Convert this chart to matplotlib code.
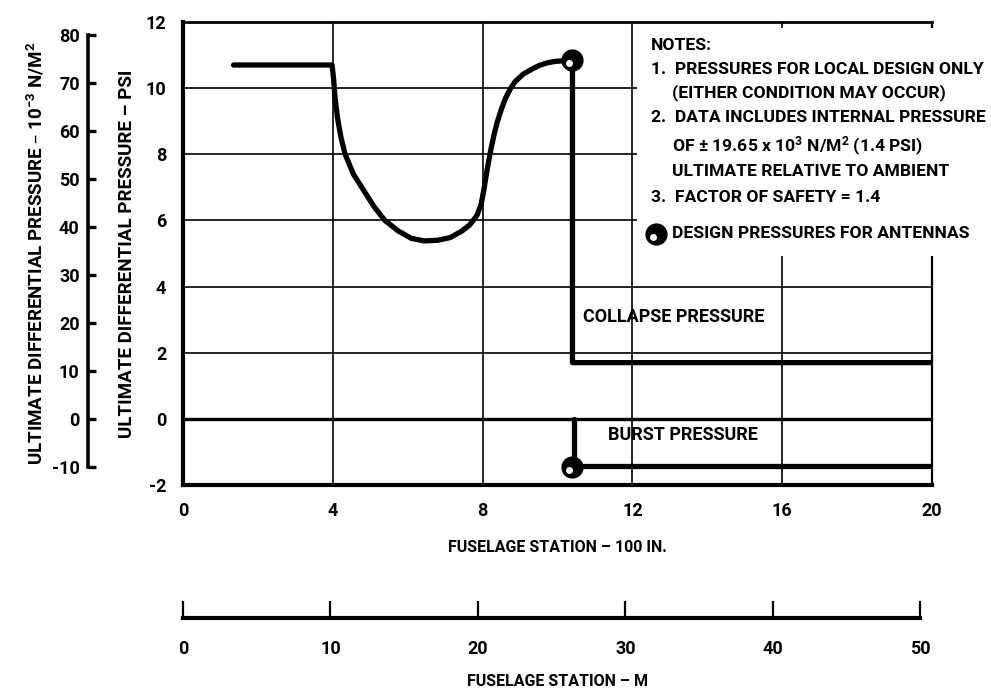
import numpy as np
import matplotlib
matplotlib.use("Agg")
import matplotlib.pyplot as plt
from matplotlib.transforms import offset_copy

plt.rcParams['font.family'] = ['Roboto', 'DejaVu Sans']
plt.rcParams['font.weight'] = 'bold'
plt.rcParams['axes.labelweight'] = 'bold'
plt.rcParams['mathtext.default'] = 'regular'
plt.rcParams['axes.unicode_minus'] = False

PSI_TO_KNM2 = 6.894757
IN100_TO_M = 2.54

# =========================
# DATA
# =========================

# collapse pressure, fuselage station (100 in) vs psi
collapse_x = [1.35, 3.98, 4.02, 4.06, 4.13, 4.22, 4.33, 4.55, 4.83, 5.1, 5.39,
              5.75, 6.09, 6.44, 6.8, 7.13, 7.45, 7.66, 7.85, 7.96, 8.03, 8.09,
              8.15, 8.22, 8.3, 8.39, 8.5, 8.61, 8.74, 8.87, 9.08, 9.31, 9.52,
              9.74, 9.95, 10.18, 10.4, 10.4, 20.0]
collapse_y = [10.7, 10.7, 10.3, 9.7, 9.07, 8.5, 8.0, 7.4, 6.9, 6.42, 6.0,
              5.68, 5.46, 5.38, 5.4, 5.48, 5.68, 5.87, 6.15, 6.49, 6.9, 7.32,
              7.72, 8.14, 8.56, 8.97, 9.36, 9.69, 9.98, 10.2, 10.42, 10.57,
              10.69, 10.77, 10.81, 10.83, 10.85, 1.7, 1.7]

# burst pressure
burst_x = [10.45, 10.45, 20.0]
burst_y = [0.0, -1.42, -1.42]

# design pressures for antennas
antenna_x = [10.4, 10.4]
antenna_y = [10.85, -1.45]

x_ticks = [0, 4, 8, 12, 16, 20]
psi_ticks = [-2, 0, 2, 4, 6, 8, 10, 12]
knm2_ticks = [-10, 0, 10, 20, 30, 40, 50, 60, 70, 80]
m_ticks = [0, 10, 20, 30, 40, 50]

notes = [
    ("NOTES:", 0.0),
    ("1.  PRESSURES FOR LOCAL DESIGN ONLY", 0.0),
    ("(EITHER CONDITION MAY OCCUR)", 21),
    ("2.  DATA INCLUDES INTERNAL PRESSURE", 0.0),
    ("OF \u00b1 19.65 x 10$^3$ N/M$^2$ (1.4 PSI)", 21),
    ("ULTIMATE RELATIVE TO AMBIENT", 21),
    ("3.  FACTOR OF SAFETY = 1.4", 0.0),
]
note_rows = [45, 69, 93, 118, 146, 172, 197]

# =========================
# FIGURE
# =========================

W, H = 991, 693
fig = plt.figure(figsize=(W / 100, H / 100), dpi=100)

def fx(px):
    return px / W

def fy(py):
    return 1 - py / H

ax = fig.add_axes([fx(183), fy(485), fx(932) - fx(183), fy(22) - fy(485)])
ax.set_xlim(0, 20)
ax.set_ylim(-2, 12)

for x in [4, 8, 12, 16]:
    ax.axvline(x, color='black', lw=1.2, zorder=1)
for y in [2, 4, 6, 8, 10]:
    ax.axhline(y, color='black', lw=1.2, zorder=1)
ax.axhline(0, color='black', lw=2.4, zorder=1)

# blank panel for the notes
ax.add_patch(plt.Rectangle((12.12, 4.92), 8.6, 6.9, facecolor='white',
                           edgecolor='none', zorder=2.6, clip_on=False))

ax.plot(collapse_x, collapse_y, color='black', lw=3.8, zorder=4,
        solid_joinstyle='round', solid_capstyle='round')
ax.plot(burst_x, burst_y, color='black', lw=3.8, zorder=4,
        solid_joinstyle='round', solid_capstyle='round')

ax.plot(antenna_x, antenna_y, 'o', color='black', ms=15, zorder=5)
dot_tr = offset_copy(ax.transData, fig=fig, x=-3, y=-3, units='dots')
ax.plot(antenna_x, antenna_y, 'o', color='white', ms=4, zorder=6,
        transform=dot_tr)

ax.text(10.68, 3.07, "COLLAPSE PRESSURE", fontsize=13, va='center', zorder=7)
ax.text(11.35, -0.5, "BURST PRESSURE", fontsize=13, va='center', zorder=7)

ax.set_xticks(x_ticks)
ax.set_yticks(psi_ticks)
ax.tick_params(length=0, labelsize=13, pad=12)
for side in ['left', 'bottom']:
    ax.spines[side].set_linewidth(3.0)
ax.spines['top'].set_linewidth(2.0)
ax.spines['right'].set_linewidth(1.6)
ax.set_xlabel("FUSELAGE STATION \u2013 100 IN.", fontsize=11.5, labelpad=15)
ax.set_ylabel("ULTIMATE DIFFERENTIAL PRESSURE \u2013 PSI", fontsize=13.5,
              labelpad=7)

# kN/m^2 scale on the far left
ax2 = ax.twinx()
ax2.set_ylim(-2 * PSI_TO_KNM2, 12 * PSI_TO_KNM2)
ax2.yaxis.set_ticks_position('left')
ax2.yaxis.set_label_position('left')
ax2.spines['left'].set_position(('axes', (88 - 183) / (932 - 183)))
ax2.spines['left'].set_bounds(-10, 80)
ax2.spines['left'].set_linewidth(2.6)
for side in ['right', 'top', 'bottom']:
    ax2.spines[side].set_visible(False)
ax2.set_yticks(knm2_ticks)
ax2.tick_params(axis='y', direction='in', length=6, width=2.4,
                labelsize=13, pad=6)
ax2.set_ylabel("ULTIMATE DIFFERENTIAL PRESSURE \u2013 10$^{-3}$ N/M$^2$",
               fontsize=13.5, labelpad=4)

# metre scale below
axm = fig.add_axes([fx(183), fy(618), fx(932) - fx(183), 0.0001])
axm.set_xlim(0, 20 * IN100_TO_M)
axm.set_yticks([])
for side in ['left', 'right', 'top']:
    axm.spines[side].set_visible(False)
axm.spines['bottom'].set_bounds(0, 50)
axm.spines['bottom'].set_linewidth(3.0)
axm.patch.set_visible(False)
axm.set_xticks(m_ticks)
axm.tick_params(axis='x', direction='in', length=12, width=1.6,
                labelsize=13, pad=16)
axm.set_xlabel("FUSELAGE STATION \u2013 M", fontsize=11.5, labelpad=11)

# notes block
for (line, indent), row in zip(notes, note_rows):
    fig.text(fx(651 + indent), fy(row), line, fontsize=12.6, va='center')
fig.lines.append(plt.Line2D([fx(656)], [fy(234)], marker='o', color='black',
                            ms=15, transform=fig.transFigure))
fig.lines.append(plt.Line2D([fx(653)], [fy(237)], marker='o', color='white',
                            ms=4, transform=fig.transFigure))
fig.text(fx(672), fy(234), "DESIGN PRESSURES FOR ANTENNAS", fontsize=12.6,
         va='center')

fig.savefig("out.png", dpi=100)
